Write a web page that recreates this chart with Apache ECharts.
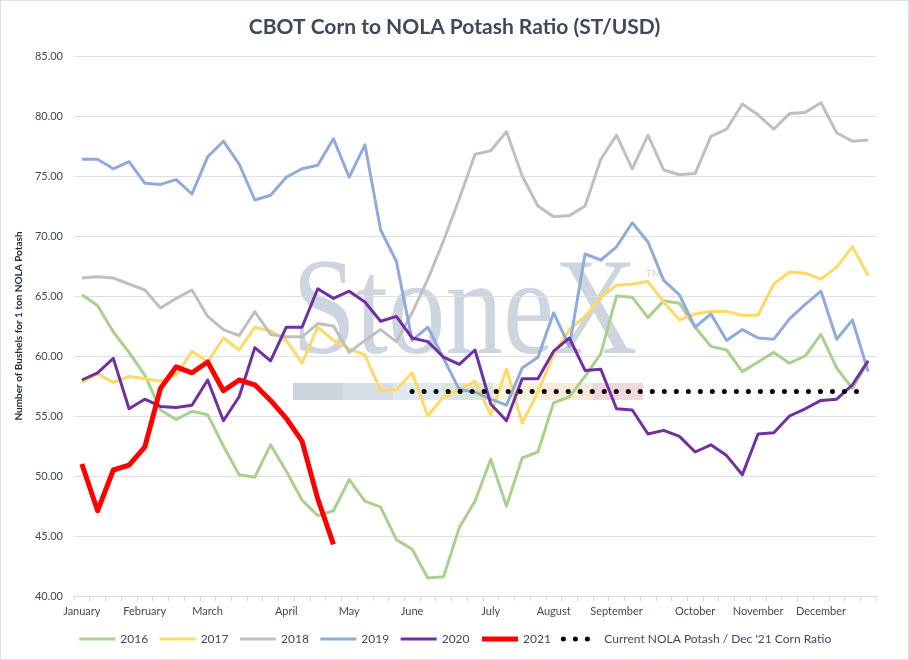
<!DOCTYPE html>
<html>
<head>
<meta charset="utf-8">
<script src="https://cdn.jsdelivr.net/npm/echarts@6/dist/echarts.min.js"></script>
<style>
  html, body { margin: 0; padding: 0; background: #fff; }
  #chart { width: 909px; height: 660px; box-sizing: border-box; border: 1px solid #dde1e6; }
</style>
</head>
<body>
<div id="chart"></div>
<script>
// weekly categories, only some carry a month label
var weeks = ['January', '', '', '', 'February', '', '', '', 'March', '', '', '', '',
    'April', '', '', '', 'May', '', '', '', 'June', '', '', '', '', 'July', '', '', '',
    'August', '', '', '', 'September', '', '', '', '', 'October', '', '', '', 'November',
    '', '', '', 'December', '', '', ''];

var y2016 = [65.1, 64.2, 62.0, 60.3, 58.4, 55.5, 54.7, 55.4, 55.1, 52.5, 50.1, 49.9, 52.6,
    50.4, 48.0, 46.7, 47.1, 49.7, 47.9, 47.4, 44.7, 43.9, 41.5, 41.6, 45.7, 47.9, 51.4,
    47.5, 51.5, 52.0, 56.1, 56.6, 58.3, 60.2, 65.0, 64.9, 63.2, 64.6, 64.4, 62.4, 60.8,
    60.5, 58.7, 59.5, 60.3, 59.4, 60.0, 61.8, 59.0, 57.3, 59.5];
var y2017 = [57.8, 58.5, 57.8, 58.3, 58.1, 57.9, 58.4, 60.4, 59.5, 61.5, 60.5, 62.4, 62.1,
    61.3, 59.4, 62.4, 61.3, 60.6, 60.1, 57.1, 57.2, 58.6, 55.0, 56.6, 57.2, 57.9, 55.1,
    58.9, 54.4, 57.0, 60.1, 62.2, 63.3, 64.9, 65.9, 66.0, 66.2, 64.5, 63.0, 63.5, 63.7,
    63.7, 63.4, 63.4, 66.0, 67.0, 66.9, 66.4, 67.4, 69.1, 66.7];
var y2018 = [66.5, 66.6, 66.5, 66.0, 65.5, 64.0, 64.8, 65.5, 63.3, 62.2, 61.7, 63.7, 61.8,
    61.6, 61.6, 62.7, 62.5, 60.3, 61.3, 62.2, 61.2, 63.6, 66.4, 69.6, 73.1, 76.8, 77.1,
    78.7, 75.0, 72.5, 71.6, 71.7, 72.5, 76.4, 78.4, 75.6, 78.4, 75.5, 75.1, 75.2, 78.3,
    78.9, 81.0, 80.1, 78.9, 80.2, 80.3, 81.1, 78.6, 77.9, 78.0];
var y2019 = [76.4, 76.4, 75.6, 76.2, 74.4, 74.3, 74.7, 73.5, 76.6, 77.9, 76.0, 73.0, 73.4,
    74.9, 75.6, 75.9, 78.1, 74.9, 77.6, 70.5, 67.9, 61.3, 62.4, 59.8, 57.2, 57.0, 56.4,
    55.9, 59.0, 59.9, 63.6, 60.8, 68.5, 68.0, 69.1, 71.1, 69.5, 66.3, 65.1, 62.4, 63.5,
    61.3, 62.2, 61.5, 61.4, 63.1, 64.3, 65.4, 61.4, 63.0, 58.7];
var y2020 = [58.0, 58.6, 59.8, 55.6, 56.4, 55.8, 55.7, 55.9, 58.0, 54.6, 56.6, 60.7, 59.6,
    62.4, 62.4, 65.6, 64.8, 65.4, 64.5, 62.9, 63.3, 61.5, 61.2, 59.9, 59.3, 60.5, 56.0,
    54.6, 58.1, 58.1, 60.4, 61.5, 58.8, 58.9, 55.6, 55.5, 53.5, 53.8, 53.3, 52.0, 52.6,
    51.7, 50.1, 53.5, 53.6, 55.0, 55.6, 56.3, 56.4, 57.6, 59.6];
var y2021 = [51.0, 47.1, 50.5, 50.9, 52.4, 57.3, 59.1, 58.6, 59.5, 57.1, 58.0, 57.6, 56.3,
    54.8, 52.9, 48.1, 44.3];
// current NOLA potash / Dec '21 corn ratio, from June onward
var ratioNow = 57.05;
var ratioStart = 21;

var ratioLine = weeks.map(function (w, i) { return i >= ratioStart ? ratioNow : null; });

var font = 'Lato';
var band = ['#ccd4dd', '#d5dde7', '#dfe9f3', '#d9e7d9', '#f7f3de', '#f8e9d8', '#efd7db'];

var chart = echarts.init(document.getElementById('chart'));

var lineSeries = function (name, data, color, width) {
    return {
        name: name,
        type: 'line',
        data: data,
        symbol: 'none',
        lineStyle: { color: color, width: width, join: 'round' },
        itemStyle: { color: color },
        z: 3
    };
};

var watermark = [
    {
        type: 'text', z: -10, left: 291, top: 248, scaleX: 0.84,
        style: { text: 'StoneX', font: '137px "Liberation Serif"', fill: '#cdd5df' }
    },
    {
        type: 'text', z: -10, left: 645, top: 268,
        style: { text: 'TM', font: '10px ' + font, fill: '#c9d1db' }
    }
];
band.forEach(function (c, i) {
    watermark.push({
        type: 'rect', z: -10,
        shape: { x: 292 + i * 50, y: 382, width: 50, height: 17 },
        style: { fill: c }
    });
});

chart.setOption({
    animation: false,
    backgroundColor: '#fff',
    title: {
        text: 'CBOT Corn to NOLA Potash Ratio (ST/USD)',
        left: 'center',
        top: 11,
        textStyle: { fontFamily: font, fontSize: 21, fontWeight: 'bold', color: '#3e4a5a' }
    },
    grid: { left: 73, right: 32, top: 55, bottom: 63 },
    graphic: watermark,
    legend: {
        bottom: 9,
        left: 'center',
        itemWidth: 36,
        itemHeight: 12,
        itemGap: 10,
        itemStyle: { opacity: 0 },
        lineStyle: { width: 'inherit' },
        textStyle: { fontFamily: font, fontSize: 12, color: '#404858' },
        data: ['2016', '2017', '2018', '2019', '2020', '2021', "Current NOLA Potash / Dec '21 Corn Ratio"]
    },
    xAxis: {
        type: 'category',
        data: weeks,
        boundaryGap: true,
        axisLine: { lineStyle: { color: '#d9d9d9' } },
        axisTick: { show: true, interval: 0, length: 5, lineStyle: { color: '#d9d9d9' } },
        axisLabel: { interval: 0, margin: 10, fontFamily: font, fontSize: 11, color: '#404858' },
        splitLine: { show: false }
    },
    yAxis: {
        type: 'value',
        min: 40,
        max: 85,
        interval: 5,
        name: 'Number of Bushels for 1 ton NOLA Potash',
        nameLocation: 'middle',
        nameGap: 46,
        nameTextStyle: { fontFamily: font, fontSize: 10, fontWeight: 'bold', color: '#1f2d3d' },
        axisLine: { show: false },
        axisTick: { show: false },
        axisLabel: {
            margin: 11, fontFamily: font, fontSize: 11, color: '#404858',
            formatter: function (v) { return v.toFixed(2); }
        },
        splitLine: { lineStyle: { color: '#dcdfe4', width: 1 } }
    },
    series: [
        lineSeries('2016', y2016, '#a9d18e', 3),
        lineSeries('2017', y2017, '#ffd966', 3),
        lineSeries('2018', y2018, '#bfbfbf', 3),
        lineSeries('2019', y2019, '#8faadc', 3),
        lineSeries('2020', y2020, '#7030a0', 3),
        lineSeries('2021', y2021, '#ff0000', 5),
        {
            name: "Current NOLA Potash / Dec '21 Corn Ratio",
            type: 'line',
            data: ratioLine,
            symbol: 'none',
            lineStyle: { color: '#000', width: 5, type: [0.01, 12], cap: 'round' },
            itemStyle: { color: '#000' },
            z: 4
        }
    ]
});
</script>
</body>
</html>
